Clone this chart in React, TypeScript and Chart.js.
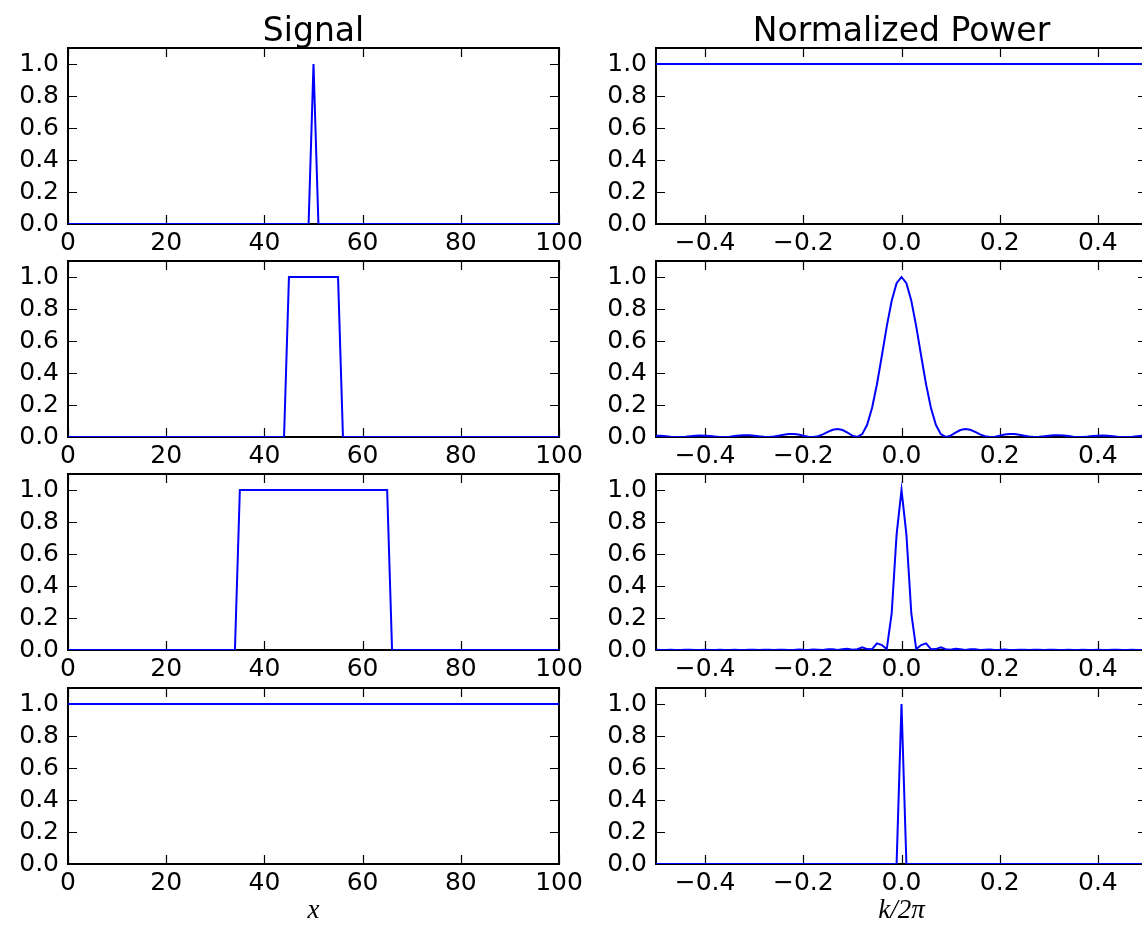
import { useEffect, useRef } from 'react';
import { Chart, registerables } from 'chart.js';

Chart.register(...registerables);

// ---------- text ----------
const SIGNAL_TITLE = 'Signal';
const POWER_TITLE = 'Normalized Power';
const SIGNAL_XLABEL = 'x';
const POWER_XLABEL = 'k/2\u03c0';

// ---------- ticks ----------
const SIGNAL_X_TICKS = [0, 20, 40, 60, 80, 100];
const POWER_X_TICKS = [-0.4, -0.2, 0, 0.2, 0.4];
const Y_TICKS = [0, 0.2, 0.4, 0.6, 0.8, 1.0];
const SIGNAL_X_RANGE = [0, 100];
const POWER_X_RANGE = [-0.5, 0.5];
const Y_RANGE = [0, 1.1];

// ---------- signals (x, value) ----------
const SIGNAL_1_X = [0, 49, 50, 51, 100];
const SIGNAL_1_Y = [0, 0, 1, 0, 0];
const SIGNAL_2_X = [0, 44, 45, 55, 56, 100];
const SIGNAL_2_Y = [0, 0, 1, 1, 0, 0];
const SIGNAL_3_X = [0, 34, 35, 65, 66, 100];
const SIGNAL_3_Y = [0, 0, 1, 1, 0, 0];
const SIGNAL_4_X = [0, 100];
const SIGNAL_4_Y = [1, 1];

// ---------- power spectra ----------
const FREQ = [
  -0.5, -0.49, -0.48, -0.47, -0.46, -0.45, -0.44, -0.43, -0.42, -0.41,
  -0.4, -0.39, -0.38, -0.37, -0.36, -0.35, -0.34, -0.33, -0.32, -0.31,
  -0.3, -0.29, -0.28, -0.27, -0.26, -0.25, -0.24, -0.23, -0.22, -0.21,
  -0.2, -0.19, -0.18, -0.17, -0.16, -0.15, -0.14, -0.13, -0.12, -0.11,
  -0.1, -0.09, -0.08, -0.07, -0.06, -0.05, -0.04, -0.03, -0.02, -0.01,
  0, 0.01, 0.02, 0.03, 0.04, 0.05, 0.06, 0.07, 0.08, 0.09,
  0.1, 0.11, 0.12, 0.13, 0.14, 0.15, 0.16, 0.17, 0.18, 0.19,
  0.2, 0.21, 0.22, 0.23, 0.24, 0.25, 0.26, 0.27, 0.28, 0.29,
  0.3, 0.31, 0.32, 0.33, 0.34, 0.35, 0.36, 0.37, 0.38, 0.39,
  0.4, 0.41, 0.42, 0.43, 0.44, 0.45, 0.46, 0.47, 0.48, 0.49,
];

const POWER_1_X = [-0.5, 0.49];
const POWER_1_Y = [1, 1];

const POWER_2 = [
  0.0083, 0.0073, 0.0049, 0.0022, 0.0003, 0.0002, 0.0020, 0.0049, 0.0076, 0.0090,
  0.0083, 0.0058, 0.0027, 0.0005, 0.0002, 0.0022, 0.0061, 0.0096, 0.0116, 0.0112,
  0.0083, 0.0042, 0.0009, 0.0001, 0.0028, 0.0083, 0.0144, 0.0188, 0.0191, 0.0151,
  0.0083, 0.0020, 0.0001, 0.0050, 0.0167, 0.0318, 0.0449, 0.0499, 0.0435, 0.0271,
  0.0083, 0.0001, 0.0181, 0.0760, 0.1808, 0.3295, 0.5077, 0.6914, 0.8517, 0.9612,
  1.0, 0.9612, 0.8517, 0.6914, 0.5077, 0.3295, 0.1808, 0.0760, 0.0181, 0.0001,
  0.0083, 0.0271, 0.0435, 0.0499, 0.0449, 0.0318, 0.0167, 0.0050, 0.0001, 0.0020,
  0.0083, 0.0151, 0.0191, 0.0188, 0.0144, 0.0083, 0.0028, 0.0001, 0.0009, 0.0042,
  0.0083, 0.0112, 0.0116, 0.0096, 0.0061, 0.0022, 0.0002, 0.0005, 0.0027, 0.0058,
  0.0083, 0.0090, 0.0076, 0.0049, 0.0020, 0.0002, 0.0003, 0.0022, 0.0049, 0.0073,
];

const POWER_3 = [
  0.0010, 0.0003, 0.0001, 0.0010, 0.0006, 0.0000, 0.0009, 0.0008, 0.0000, 0.0007,
  0.0010, 0.0001, 0.0005, 0.0012, 0.0003, 0.0003, 0.0013, 0.0006, 0.0001, 0.0013,
  0.0010, 0.0000, 0.0012, 0.0016, 0.0001, 0.0010, 0.0021, 0.0004, 0.0007, 0.0028,
  0.0010, 0.0004, 0.0034, 0.0023, 0.0001, 0.0040, 0.0044, 0.0001, 0.0046, 0.0084,
  0.0010, 0.0050, 0.0168, 0.0057, 0.0054, 0.0415, 0.0310, 0.0056, 0.2282, 0.7215,
  1.0, 0.7215, 0.2282, 0.0056, 0.0310, 0.0415, 0.0054, 0.0057, 0.0168, 0.0050,
  0.0010, 0.0084, 0.0046, 0.0001, 0.0044, 0.0040, 0.0001, 0.0023, 0.0034, 0.0004,
  0.0010, 0.0028, 0.0007, 0.0004, 0.0021, 0.0010, 0.0001, 0.0016, 0.0012, 0.0000,
  0.0010, 0.0013, 0.0001, 0.0006, 0.0013, 0.0003, 0.0003, 0.0012, 0.0005, 0.0001,
  0.0010, 0.0007, 0.0000, 0.0008, 0.0009, 0.0000, 0.0006, 0.0010, 0.0001, 0.0003,
];

const POWER_4_X = [-0.5, -0.01, 0, 0.01, 0.49];
const POWER_4_Y = [0, 0, 1, 0, 0];

// ---------- layout ----------
const FONT = 'DejaVu Sans';
const PLOT_W = 491;
const PLOT_H = 176;
const COL_LEFT = [68, 656];
const ROW_TOP = [48, 261, 474, 688];
const Y_AXIS_W = 68;
const PAD_RIGHT = 40;
const LINE_COLOR = '#0000ff';

type PanelDef = { row: number; col: number; xs: number[]; ys: number[] };

const PANELS: PanelDef[] = [
  { row: 0, col: 0, xs: SIGNAL_1_X, ys: SIGNAL_1_Y },
  { row: 0, col: 1, xs: POWER_1_X, ys: POWER_1_Y },
  { row: 1, col: 0, xs: SIGNAL_2_X, ys: SIGNAL_2_Y },
  { row: 1, col: 1, xs: FREQ, ys: POWER_2 },
  { row: 2, col: 0, xs: SIGNAL_3_X, ys: SIGNAL_3_Y },
  { row: 2, col: 1, xs: FREQ, ys: POWER_3 },
  { row: 3, col: 0, xs: SIGNAL_4_X, ys: SIGNAL_4_Y },
  { row: 3, col: 1, xs: POWER_4_X, ys: POWER_4_Y },
];

const fmtPower = (v: number) => (v < 0 ? '\u2212' + (-v).toFixed(1) : v.toFixed(1));
const fmtSignal = (v: number) => String(v);

function Panel({ row, col, xs, ys }: PanelDef) {
  const ref = useRef<HTMLCanvasElement>(null);
  const padTop = row === 0 ? ROW_TOP[0] : 30;
  const xAxisH = row === 3 ? 72 : 36;
  const width = Y_AXIS_W + PLOT_W + PAD_RIGHT;
  const height = padTop + PLOT_H + xAxisH;
  const left = COL_LEFT[col] - Y_AXIS_W;
  const top = ROW_TOP[row] - padTop;

  useEffect(() => {
    if (!ref.current) return;
    const isSignal = col === 0;
    const xTicks = isSignal ? SIGNAL_X_TICKS : POWER_X_TICKS;
    const xRange = isSignal ? SIGNAL_X_RANGE : POWER_X_RANGE;
    const title = isSignal ? SIGNAL_TITLE : POWER_TITLE;
    const xLabel = isSignal ? SIGNAL_XLABEL : POWER_XLABEL;

    const framePlugin = {
      id: 'mplFrame',
      beforeDatasetsDraw(chart: any) {
        const { ctx, chartArea: ca, scales } = chart;
        ctx.save();
        ctx.strokeStyle = '#000';
        ctx.lineWidth = 2;
        ctx.strokeRect(ca.left, ca.top, ca.right - ca.left, ca.bottom - ca.top);
        ctx.lineWidth = 1.2;
        ctx.beginPath();
        for (const v of xTicks) {
          const px = Math.round(scales.x.getPixelForValue(v)) + 0.5;
          ctx.moveTo(px, ca.bottom);
          ctx.lineTo(px, ca.bottom - 9);
          ctx.moveTo(px, ca.top);
          ctx.lineTo(px, ca.top + 9);
        }
        for (const v of Y_TICKS) {
          const py = Math.round(scales.y.getPixelForValue(v)) + 0.5;
          ctx.moveTo(ca.left, py);
          ctx.lineTo(ca.left + 9, py);
          ctx.moveTo(ca.right, py);
          ctx.lineTo(ca.right - 9, py);
        }
        ctx.stroke();
        ctx.restore();
      },
      afterDraw(chart: any) {
        if (row !== 0) return;
        const { ctx, chartArea: ca } = chart;
        ctx.save();
        ctx.font = `33px "${FONT}"`;
        ctx.fillStyle = '#000';
        ctx.textAlign = 'center';
        ctx.textBaseline = 'alphabetic';
        ctx.fillText(title, (ca.left + ca.right) / 2, ca.top - 7);
        ctx.restore();
      },
    };

    const chart = new Chart(ref.current, {
      type: 'scatter',
      data: {
        datasets: [
          {
            data: xs.map((x, i) => ({ x, y: ys[i] })),
            showLine: true,
            borderColor: LINE_COLOR,
            backgroundColor: LINE_COLOR,
            borderWidth: 2,
            pointRadius: 0,
            pointHoverRadius: 0,
            tension: 0,
            fill: false,
          },
        ],
      },
      options: {
        animation: false,
        responsive: false,
        devicePixelRatio: 1,
        events: [],
        layout: { autoPadding: false, padding: { top: padTop, right: PAD_RIGHT, left: 0, bottom: 0 } },
        plugins: { legend: { display: false }, tooltip: { enabled: false }, title: { display: false } },
        scales: {
          x: {
            type: 'linear',
            min: xRange[0],
            max: xRange[1],
            afterBuildTicks: (s: any) => {
              s.ticks = xTicks.map((value) => ({ value }));
            },
            afterFit: (s: any) => {
              s.height = xAxisH;
            },
            grid: { display: false, drawTicks: false },
            border: { display: false },
            ticks: {
              autoSkip: false,
              maxRotation: 0,
              padding: 4,
              color: '#000',
              font: { family: FONT, size: 25 },
              callback: (v: any) => (isSignal ? fmtSignal(Number(v)) : fmtPower(Number(v))),
            },
            title: {
              display: row === 3,
              text: xLabel,
              color: '#000',
              font: { family: 'Liberation Serif', size: 27, style: 'italic', lineHeight: 1 },
              padding: { top: 0, bottom: 12 },
            },
          },
          y: {
            type: 'linear',
            min: Y_RANGE[0],
            max: Y_RANGE[1],
            afterBuildTicks: (s: any) => {
              s.ticks = Y_TICKS.map((value) => ({ value }));
            },
            afterFit: (s: any) => {
              s.width = Y_AXIS_W;
            },
            grid: { display: false, drawTicks: false },
            border: { display: false },
            ticks: {
              autoSkip: false,
              padding: 9,
              color: '#000',
              font: { family: FONT, size: 25 },
              callback: (v: any) => Number(v).toFixed(1),
            },
          },
        },
      } as any,
      plugins: [framePlugin],
    });
    return () => chart.destroy();
  }, []);

  return (
    <canvas
      ref={ref}
      width={width}
      height={height}
      style={{ position: 'absolute', left, top }}
    />
  );
}

export default function App() {
  return (
    <div
      style={{
        position: 'absolute',
        left: 0,
        top: 0,
        width: 1142,
        height: 936,
        overflow: 'hidden',
        background: '#ffffff',
      }}
    >
      {PANELS.map((p, i) => (
        <Panel key={i} {...p} />
      ))}
    </div>
  );
}
